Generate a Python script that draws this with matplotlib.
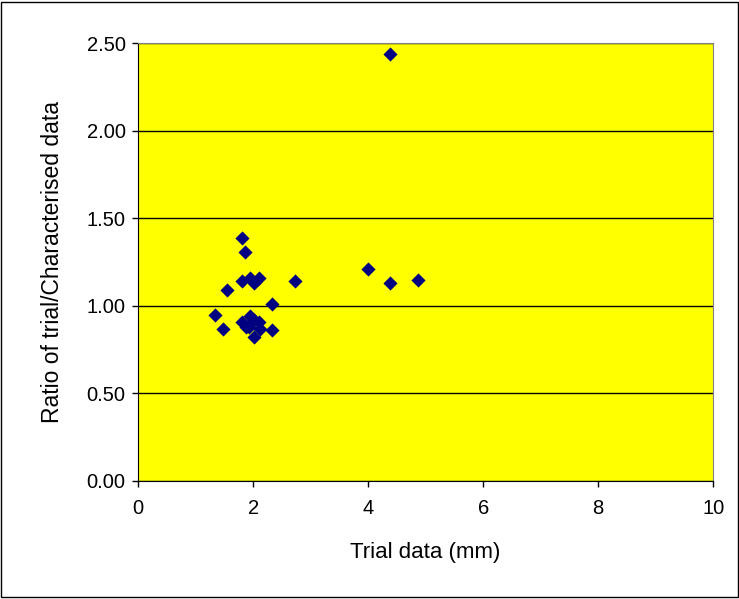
import matplotlib.pyplot as plt
import matplotlib.patches as patches

plt.rcParams['font.family'] = ['Liberation Sans', 'DejaVu Sans']

# trial data (mm) and ratio trial/characterised
trial = [4.38, 1.81, 1.85, 1.54, 1.81, 1.95, 2.01, 2.10, 2.72, 2.33,
         1.33, 1.47, 1.81, 1.95, 1.87, 2.01, 2.10, 2.12, 2.02, 2.33,
         1.92, 3.99, 4.38, 4.86]
ratio = [2.44, 1.39, 1.31, 1.09, 1.14, 1.16, 1.13, 1.16, 1.14, 1.01,
         0.95, 0.87, 0.91, 0.94, 0.88, 0.92, 0.91, 0.87, 0.82, 0.86,
         0.88, 1.21, 1.13, 1.15]

yticks = [0.0, 0.5, 1.0, 1.5, 2.0, 2.5]
xticks = [0, 2, 4, 6, 8, 10]

fig = plt.figure(figsize=(7.39, 5.99), dpi=100)
ax = fig.add_axes([0.187, 0.197, 0.778, 0.731])
ax.set_facecolor('#FFFF00')

ax.scatter(trial, ratio, marker='D', s=52, color='#000080', zorder=3, linewidths=0)

ax.set_xlim(0, 10)
ax.set_ylim(0, 2.5)
ax.set_xticks(xticks)
ax.set_yticks(yticks)
ax.set_yticklabels(['%.2f' % v for v in yticks])
ax.yaxis.grid(True, color='black', linewidth=1)
ax.set_axisbelow(True)
ax.tick_params(labelsize=14.5, direction='out', length=4, width=1)
ax.tick_params(axis='y', pad=5)
ax.tick_params(axis='x', pad=9)

for s in ['top', 'right']:
    ax.spines[s].set_color('#808080')
for s in ['left', 'bottom']:
    ax.spines[s].set_color('black')

ax.set_xlabel('Trial data (mm)', fontsize=16, labelpad=17)
ax.set_ylabel('Ratio of trial/Characterised data', fontsize=16.5, labelpad=16)

fig.patches.append(patches.Rectangle((0.002, 0.003), 0.996, 0.994, transform=fig.transFigure,
                                     fill=False, edgecolor='black', linewidth=1))

plt.savefig('out.png', dpi=100)
